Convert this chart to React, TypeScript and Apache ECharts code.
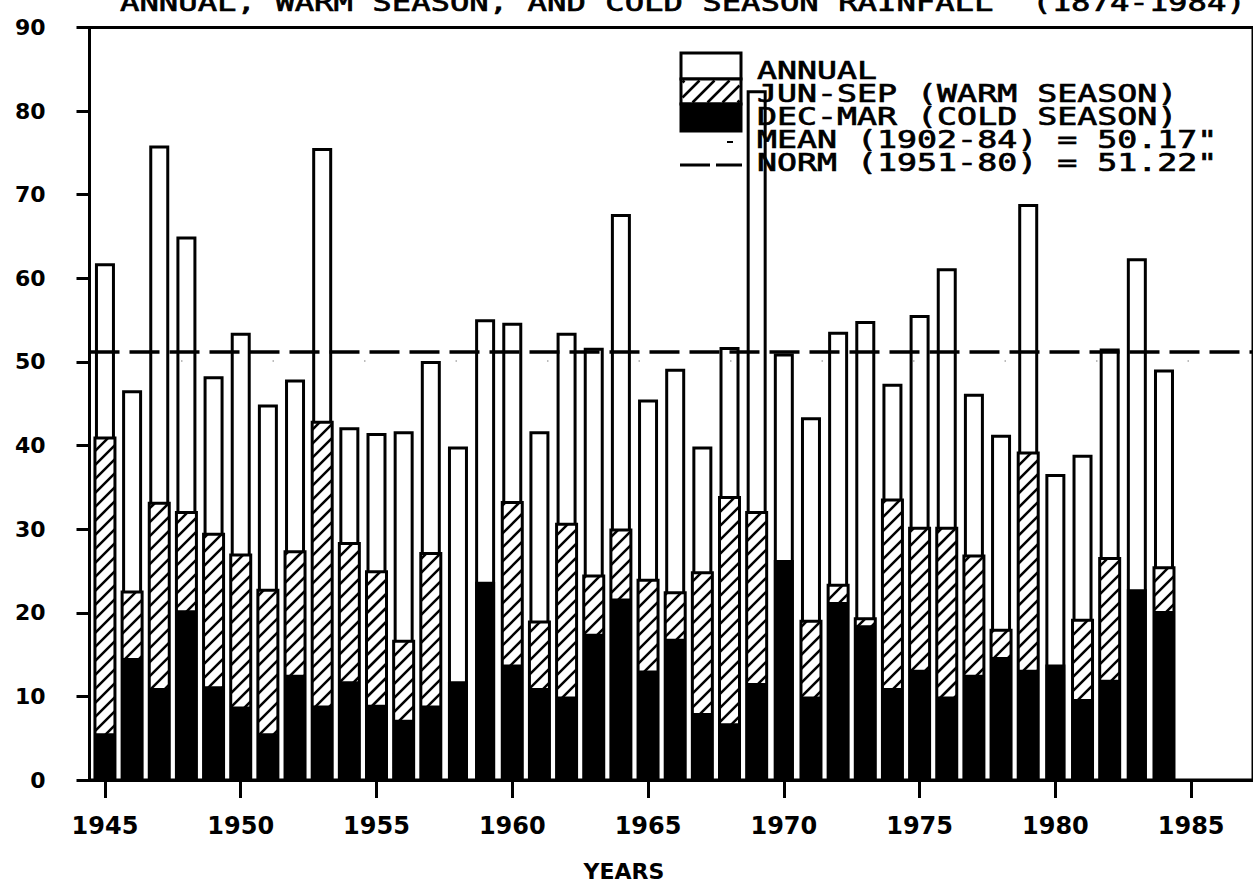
import React, { useEffect, useRef } from "react";
import * as echarts from "echarts";

// ---- data (inches of rainfall) ----
const YEARS = [
  1945, 1946, 1947, 1948, 1949, 1950, 1951, 1952, 1953, 1954,
  1955, 1956, 1957, 1958, 1959, 1960, 1961, 1962, 1963, 1964,
  1965, 1966, 1967, 1968, 1969, 1970, 1971, 1972, 1973, 1974,
  1975, 1976, 1977, 1978, 1979, 1980, 1981, 1982, 1983, 1984,
];
const ANNUAL = [
  61.8, 46.6, 75.9, 65.0, 48.3, 53.5, 44.9, 47.9, 75.6, 42.2,
  41.5, 41.7, 50.1, 39.9, 55.1, 54.7, 41.7, 53.5, 51.7, 67.7,
  45.5, 49.2, 39.9, 51.8, 82.5, 51.0, 43.4, 53.6, 54.9, 47.4,
  55.6, 61.2, 46.2, 41.3, 68.9, 36.6, 38.9, 51.6, 62.4, 49.1,
];
// Jun-Sep (warm season); null where it is hidden behind the cold-season bar
const WARM = [
  40.9, 22.5, 33.1, 32.0, 29.4, 26.9, 22.7, 27.3, 42.8, 28.3,
  24.9, 16.6, 27.1, null, null, 33.2, 18.9, 30.6, 24.4, 29.9,
  23.9, 22.4, 24.8, 33.8, 32.0, null, 19.0, 23.3, 19.3, 33.5,
  30.1, 30.1, 26.8, 17.9, 39.1, null, 19.1, 26.5, null, 25.4,
];
const COLD = [
  5.6, 14.6, 11.0, 20.3, 11.2, 8.8, 5.6, 12.6, 8.9, 11.8,
  9.0, 7.2, 8.9, 11.8, 23.7, 13.8, 11.0, 10.0, 17.5, 21.7,
  13.1, 16.9, 8.0, 6.8, 11.6, 26.3, 10.0, 21.3, 18.5, 11.0,
  13.2, 10.0, 12.6, 14.7, 13.2, 13.8, 9.7, 12.0, 22.8, 20.2,
];
const MEAN_1902_84 = 50.17;
const NORM_1951_80 = 51.22;
const X_TICKS = [1945, 1950, 1955, 1960, 1965, 1970, 1975, 1980, 1985];
const LEGEND_LABELS = [
  "ANNUAL",
  "JUN-SEP (WARM SEASON)",
  "DEC-MAR (COLD SEASON)",
  'MEAN (1902-84) = 50.17"',
  'NORM (1951-80) = 51.22"',
];
const TITLE = "ANNUAL, WARM SEASON, AND COLD SEASON RAINFALL  (1874-1984)";
const X_NAME = "YEARS";

const MONO = "'DejaVu Sans Mono', 'Liberation Mono', monospace";
const SANS = "'DejaVu Sans', 'Liberation Sans', sans-serif";
const BAR_W = 20;
const HATCH_STEP = 14;

// "/" diagonal lines (x + y = const) clipped to a box, on a global phase
function hatchLines(x0: number, y0: number, x1: number, y1: number, step: number, width: number) {
  const out: any[] = [];
  let c = Math.ceil((x0 + y0) / step) * step;
  for (; c < x1 + y1; c += step) {
    const xa = Math.max(x0, c - y1);
    const xb = Math.min(x1, c - y0);
    if (xb - xa < 0.5) continue;
    out.push({
      type: "line",
      shape: { x1: xa, y1: c - xa, x2: xb, y2: c - xb },
      style: { stroke: "#000", lineWidth: width },
    });
  }
  return out;
}

export default function App() {
  const ref = useRef<HTMLDivElement>(null);
  useEffect(() => {
    const chart = echarts.init(ref.current!, null, { renderer: "svg" });
    const pair = (arr: (number | null)[]) => arr.map((v, i) => [YEARS[i], v]);

    const legendX = 681;
    const legendW = 60;
    const graphic: any[] = [
      {
        type: "text",
        x: 120,
        y: 2,
        scaleX: 1.29,
        style: {
          text: TITLE,
          fill: "#000",
          stroke: "#000",
          lineWidth: 0.7,
          font: `normal 25px ${MONO}`,
          align: "left",
          verticalAlign: "middle",
          textAlign: "left",
          textVerticalAlign: "middle",
        },
        z: 100,
      },
      {
        type: "rect",
        shape: { x: legendX, y: 53, width: legendW, height: 26 },
        style: { fill: "#fff", stroke: "#000", lineWidth: 3 },
        z: 100,
      },
      {
        type: "rect",
        shape: { x: legendX, y: 79, width: legendW, height: 25 },
        style: { fill: "#fff", stroke: "#000", lineWidth: 3 },
        z: 100,
      },
      ...hatchLines(legendX + 1.5, 80.5, legendX + legendW - 1.5, 102.5, 15, 2.5).map((l) => ({
        ...l,
        z: 101,
      })),
      {
        type: "rect",
        shape: { x: legendX, y: 104, width: legendW, height: 27 },
        style: { fill: "#000", stroke: "#000", lineWidth: 3 },
        z: 100,
      },
      {
        type: "line",
        shape: { x1: 727, y1: 142, x2: 733, y2: 142 },
        style: { stroke: "#000", lineWidth: 2 },
        z: 100,
      },
      {
        type: "line",
        shape: { x1: 680, y1: 165, x2: 742, y2: 165 },
        style: { stroke: "#000", lineWidth: 3, lineDash: [30, 6] },
        z: 100,
      },
      ...LEGEND_LABELS.map((t, i) => ({
        type: "text",
        x: 757,
        y: 71 + i * 23,
        scaleX: 1.33,
        style: {
          text: t,
          fill: "#000",
          stroke: "#000",
          lineWidth: 0.7,
          font: `normal 25px ${MONO}`,
          align: "left",
          verticalAlign: "middle",
          textAlign: "left",
          textVerticalAlign: "middle",
        },
        z: 102,
      })),
      {
        type: "text",
        x: 624,
        y: 871,
        style: {
          text: X_NAME,
          fill: "#000",
          font: `bold 22px ${SANS}`,
          align: "center",
          verticalAlign: "middle",
          textAlign: "center",
          textVerticalAlign: "middle",
        },
        z: 100,
      },
    ];

    const option: any = {
      animation: false,
      backgroundColor: "#fff",
      grid: {
        left: 89.5,
        top: 27.5,
        right: -3,
        bottom: 112,
        show: true,
        borderColor: "#000",
        borderWidth: 3,
        backgroundColor: "transparent",
      },
      xAxis: {
        type: "value",
        min: 1944.431,
        max: 1987.278,
        axisLine: { show: true, onZero: false, lineStyle: { color: "#000", width: 3 } },
        axisTick: {
          show: true,
          customValues: X_TICKS,
          length: 18,
          lineStyle: { color: "#000", width: 3 },
        },
        axisLabel: {
          customValues: X_TICKS,
          margin: 34,
          color: "#000",
          fontFamily: SANS,
          fontWeight: "bold",
          fontSize: 24,
          formatter: (v: number) => String(v),
        },
        splitLine: { show: false },
      },
      yAxis: {
        type: "value",
        min: 0,
        max: 90,
        interval: 10,
        axisLine: { show: true, lineStyle: { color: "#000", width: 3 } },
        axisTick: { show: true, length: 13, lineStyle: { color: "#000", width: 3 } },
        axisLabel: {
          margin: 44,
          color: "#000",
          fontFamily: SANS,
          fontWeight: "bold",
          fontSize: 22,
        },
        splitLine: { show: false },
      },
      series: [
        {
          name: "ANNUAL",
          type: "bar",
          z: 1,
          data: pair(ANNUAL),
          barWidth: BAR_W,
          barGap: "-100%",
          itemStyle: { color: "#fff", borderColor: "#000", borderWidth: 3 },
          markLine: {
            silent: true,
            z: 5,
            symbol: ["none", "none"],
            label: { show: false },
            data: [
              {
                yAxis: NORM_1951_80,
                lineStyle: { color: "#000", width: 3.5, type: [30, 10] },
              },
              {
                yAxis: MEAN_1902_84,
                lineStyle: { color: "#000", width: 1.5, type: [1.5, 90], opacity: 0.35 },
              },
            ],
          },
        },
        {
          name: "JUN-SEP (WARM SEASON)",
          type: "custom",
          z: 2,
          data: pair(WARM),
          encode: { x: 0, y: 1 },
          renderItem: (params: any, api: any) => {
            const year = api.value(0);
            const v = api.value(1);
            if (v == null || isNaN(v)) return null;
            const top = api.coord([year, v]);
            const base = api.coord([year, 0]);
            const x0 = top[0] - BAR_W / 2;
            const x1 = top[0] + BAR_W / 2;
            const y0 = top[1];
            const y1 = base[1];
            return {
              type: "group",
              children: [
                {
                  type: "rect",
                  shape: { x: x0, y: y0, width: BAR_W, height: y1 - y0 },
                  style: { fill: "#fff", stroke: null },
                },
                ...hatchLines(x0, y0, x1, y1, HATCH_STEP, 2.5),
                {
                  type: "rect",
                  shape: { x: x0, y: y0, width: BAR_W, height: y1 - y0 },
                  style: { fill: "none", stroke: "#000", lineWidth: 3 },
                },
              ],
            };
          },
        },
        {
          name: "DEC-MAR (COLD SEASON)",
          type: "bar",
          z: 3,
          data: pair(COLD),
          barWidth: BAR_W,
          barGap: "-100%",
          itemStyle: { color: "#000", borderColor: "#000", borderWidth: 3 },
        },
      ],
      graphic,
    };
    chart.setOption(option);
    return () => chart.dispose();
  }, []);
  return (
    <div
      ref={ref}
      style={{ position: "absolute", left: 0, top: 0, width: 1253, height: 892, background: "#fff" }}
    />
  );
}
